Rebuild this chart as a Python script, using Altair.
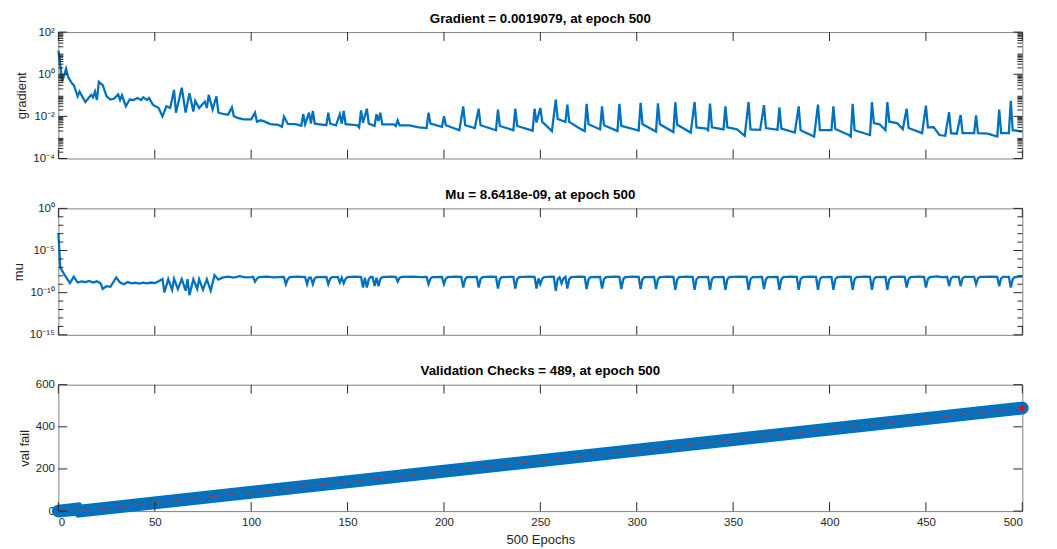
import math
import altair as alt
import pandas as pd

# ---------------- data ----------------
grad_points = [
    (0, 13), (1, 2.6), (2, 0.45), (4, 1.8), (5, 0.75), (7, 0.37), (8, 0.3), (10, 0.09),
    (11, 0.15), (14, 0.048), (17, 0.105), (18, 0.08), (19, 0.15), (20, 0.06), (21, 0.44),
    (23, 0.3), (25, 0.09), (27, 0.063), (29, 0.07), (31, 0.11), (32, 0.06), (33, 0.1),
    (35, 0.03), (37, 0.063), (39, 0.06), (41, 0.074), (43, 0.06), (44, 0.08), (46, 0.06),
    (47, 0.075), (49, 0.036), (52, 0.025), (54, 0.01), (56, 0.03), (58, 0.025), (60, 0.18),
    (61, 0.015), (64, 0.23), (66, 0.015), (68, 0.126), (70, 0.017), (71, 0.054), (73, 0.025),
    (75, 0.04), (76, 0.05), (77, 0.025), (78, 0.105), (80, 0.021), (82, 0.09), (83, 0.015),
    (86, 0.0126), (88, 0.012), (90, 0.027), (91, 0.0102), (93, 0.0085), (96, 0.0072),
    (100, 0.0072), (102, 0.015), (103, 0.0056), (105, 0.0065), (107, 0.0056), (110, 0.0043),
    (114, 0.004), (116, 0.0032), (117, 0.0098), (119, 0.0044), (123, 0.0043), (126, 0.0036),
    (127, 0.0126), (128, 0.0042), (130, 0.015), (131, 0.0045), (132, 0.018), (133, 0.0045),
    (139, 0.0038), (140, 0.015), (141, 0.0045), (144, 0.0037), (146, 0.0126), (147, 0.0045),
    (148, 0.018), (149, 0.0043), (155, 0.0038), (156, 0.003), (157, 0.019), (158, 0.005),
    (160, 0.023), (161, 0.0045), (164, 0.0035), (165, 0.0126), (166, 0.006), (167, 0.015),
    (168, 0.0042), (174, 0.0042), (175, 0.0035), (176, 0.0065), (177, 0.0037), (182, 0.0037),
    (187, 0.003), (191, 0.0028), (192, 0.015), (193, 0.0045), (199, 0.0032), (200, 0.0102),
    (201, 0.0038), (208, 0.0022), (210, 0.03), (211, 0.0038), (216, 0.0028), (218, 0.023),
    (219, 0.0038), (227, 0.0022), (228, 0.021), (229, 0.0035), (236, 0.0022), (237, 0.023),
    (238, 0.0035), (246, 0.0021), (247, 0.023), (248, 0.0051), (250, 0.025), (251, 0.0055),
    (256, 0.002), (258, 0.062), (259, 0.0075), (263, 0.0055), (264, 0.036), (265, 0.0055),
    (270, 0.0028), (273, 0.002), (274, 0.039), (275, 0.0042), (281, 0.0024), (282, 0.03),
    (283, 0.0038), (290, 0.002), (291, 0.039), (292, 0.0035), (301, 0.0021), (302, 0.044),
    (303, 0.0042), (310, 0.0019), (311, 0.042), (312, 0.0042), (319, 0.0018), (320, 0.047),
    (321, 0.004), (328, 0.0017), (330, 0.048), (331, 0.003), (336, 0.0026), (337, 0.0022),
    (338, 0.04), (339, 0.003), (345, 0.0024), (346, 0.03), (347, 0.003), (352, 0.0024),
    (356, 0.0012), (358, 0.047), (359, 0.0024), (364, 0.0023), (366, 0.034), (367, 0.0028),
    (373, 0.0023), (374, 0.027), (375, 0.0026), (382, 0.0017), (384, 0.03), (385, 0.0022),
    (392, 0.0011), (394, 0.036), (395, 0.0022), (401, 0.0022), (402, 0.03), (403, 0.0025),
    (410, 0.0013), (411, 0.0011), (412, 0.039), (413, 0.0022), (421, 0.0013), (422, 0.048),
    (423, 0.0048), (426, 0.0042), (429, 0.0022), (430, 0.048), (431, 0.0056), (435, 0.0048),
    (438, 0.0025), (440, 0.023), (441, 0.0028), (448, 0.0016), (450, 0.032), (451, 0.003),
    (454, 0.0031), (457, 0.0013), (460, 0.0012), (462, 0.016), (463, 0.0016), (466, 0.0015),
    (468, 0.0115), (469, 0.0016), (475, 0.0016), (476, 0.0112), (477, 0.0016), (482, 0.0015),
    (487, 0.0011), (488, 0.021), (489, 0.0016), (493, 0.0016), (494, 0.055), (495, 0.0022),
    (500, 0.0019079),
]

mu_points = [
    (0, 1.2e-3), (1, 9e-8), (3, 1.6e-8), (6, 1.4e-9), (8, 8e-9), (10, 1.6e-9), (12, 2.2e-9),
    (14, 1.8e-9), (16, 2.5e-9), (18, 1.6e-9), (20, 2.2e-9), (22, 1.2e-9), (23, 2.7e-10),
    (25, 6e-10), (27, 5e-10), (30, 6.3e-9), (32, 1.6e-9), (34, 1e-9), (36, 1.8e-9),
    (38, 1.3e-9), (40, 1.5e-9), (42, 1.2e-9), (44, 1.5e-9), (46, 1.3e-9), (48, 1.6e-9),
    (50, 1.4e-9), (52, 2.2e-9), (54, 4e-9), (55, 1.1e-10), (57, 4e-9), (59, 2.2e-10),
    (60, 4.5e-9), (62, 2.7e-10), (64, 4e-9), (66, 1.7e-10), (67, 4e-9), (68, 5e-11),
    (70, 4e-9), (72, 2.7e-10), (73, 4e-9), (75, 2.2e-10), (77, 4e-9), (79, 1.7e-10),
    (81, 1.2e-8), (83, 3.5e-9), (85, 6e-9), (88, 8e-9), (91, 6e-9), (94, 9e-9), (97, 6.5e-9),
    (100, 7e-9), (101, 7.5e-9), (102, 2e-9), (103, 4.5e-9), (104, 7e-9), (108, 8e-9),
    (112, 6.5e-9), (116, 7.5e-9), (117, 7e-9), (118, 1e-9), (119, 4e-9), (120, 7e-9),
    (124, 8e-9), (128, 7e-9), (129, 1e-9), (130, 6e-9), (131, 6e-9), (132, 1e-9), (133, 5e-9),
    (134, 7e-9), (139, 7.5e-9), (140, 1e-9), (141, 4.5e-9), (142, 7e-9), (145, 7e-9),
    (146, 1.6e-9), (147, 6e-9), (148, 1.3e-9), (149, 4.5e-9), (150, 7e-9), (154, 8e-9),
    (157, 7e-9), (158, 4e-10), (159, 6e-9), (160, 4e-10), (161, 4e-9), (162, 7.5e-9),
    (163, 7e-9), (164, 6e-10), (165, 6e-9), (166, 6e-10), (167, 4e-9), (168, 7e-9),
    (172, 8e-9), (175, 7.5e-9), (176, 2e-9), (177, 6e-9), (178, 7.5e-9), (184, 8e-9),
    (188, 7e-9), (191, 7.5e-9), (192, 1e-9), (193, 4.5e-9), (194, 7e-9), (199, 7.5e-9),
    (200, 1e-9), (201, 4.5e-9), (202, 7e-9), (206, 8e-9), (209, 7.5e-9), (210, 4e-10),
    (211, 4e-9), (212, 7e-9), (217, 7.5e-9), (218, 4e-10), (219, 4e-9), (220, 7e-9),
    (224, 8e-9), (227, 7.5e-9), (228, 3e-10), (229, 4e-9), (230, 7e-9), (236, 7.5e-9),
    (237, 3e-10), (238, 4e-9), (239, 7e-9), (244, 8e-9), (247, 7.5e-9), (248, 3e-10),
    (249, 5e-9), (250, 1e-9), (251, 4.5e-9), (252, 7e-9), (256, 8e-9), (257, 7.5e-9),
    (258, 1.7e-10), (259, 4e-9), (260, 6.5e-9), (261, 1.3e-9), (262, 5e-9), (263, 7.5e-9),
    (264, 3e-10), (265, 4e-9), (266, 7e-9), (270, 8e-9), (273, 7.5e-9), (274, 2.7e-10),
    (275, 4e-9), (276, 7e-9), (281, 7.5e-9), (282, 3e-10), (283, 4e-9), (284, 7e-9),
    (288, 8e-9), (291, 7.5e-9), (292, 2.7e-10), (293, 4e-9), (294, 7e-9), (298, 8e-9),
    (301, 7.5e-9), (302, 2.7e-10), (303, 4e-9), (304, 7e-9), (309, 7.5e-9), (310, 2.7e-10),
    (311, 4e-9), (312, 7e-9), (316, 8e-9), (319, 7.5e-9), (320, 2.2e-10), (321, 4e-9),
    (322, 7e-9), (326, 8e-9), (329, 7.5e-9), (330, 2.2e-10), (331, 4e-9), (332, 7e-9),
    (337, 7.5e-9), (338, 2.2e-10), (339, 4e-9), (340, 7e-9), (345, 7.5e-9), (346, 2.2e-10),
    (347, 4e-9), (348, 7e-9), (353, 8e-9), (357, 7.5e-9), (358, 2.2e-10), (359, 4e-9),
    (360, 7e-9), (365, 7.5e-9), (366, 2.7e-10), (367, 4e-9), (368, 7e-9), (373, 7.5e-9),
    (374, 2.2e-10), (375, 4e-9), (376, 7e-9), (380, 8e-9), (383, 7.5e-9), (384, 2.2e-10),
    (385, 4e-9), (386, 7e-9), (390, 8e-9), (393, 7.5e-9), (394, 2.2e-10), (395, 4e-9),
    (396, 7e-9), (401, 7.5e-9), (402, 2.2e-10), (403, 4e-9), (404, 7e-9), (408, 8e-9),
    (411, 7.5e-9), (412, 2.2e-10), (413, 4e-9), (414, 7e-9), (418, 8e-9), (421, 7.5e-9),
    (422, 2.2e-10), (423, 4e-9), (424, 7e-9), (429, 7.5e-9), (430, 2.2e-10), (431, 4e-9),
    (432, 7e-9), (436, 8e-9), (439, 7.5e-9), (440, 4e-10), (441, 4e-9), (442, 7e-9),
    (446, 8e-9), (449, 7.5e-9), (450, 4e-10), (451, 4e-9), (452, 7e-9), (456, 8.5e-9),
    (458, 7e-9), (461, 7.5e-9), (462, 6e-10), (463, 5e-9), (464, 7.5e-9), (467, 7.5e-9),
    (468, 6e-10), (469, 5e-9), (470, 7.5e-9), (475, 7.5e-9), (476, 1e-9), (477, 5e-9),
    (478, 7.5e-9), (484, 8e-9), (487, 7.5e-9), (488, 6e-10), (489, 5e-9), (490, 7.5e-9),
    (493, 7.5e-9), (494, 4e-10), (495, 4e-9), (496, 7e-9), (500, 8.6418e-9),
]

val_epochs = [0, 10, 11, 500]
val_fail = [0, 10, 0, 489]
best_epoch = [500]
best_val_fail = [489]

x_ticks = [0, 50, 100, 150, 200, 250, 300, 350, 400, 450, 500]

grad_major = [1e-4, 1e-2, 1, 1e2]
grad_labels = ["10⁻⁴", "10⁻²", "10⁰", "10²"]
grad_minor = [m * 10.0 ** e for e in range(-4, 2) for m in range(2, 10)]

mu_major = [1e-15, 1e-10, 1e-5, 1]
mu_labels = ["10⁻¹⁵", "10⁻¹⁰", "10⁻⁵", "10⁰"]
mu_minor = [10.0 ** -e for e in range(1, 15) if e % 5]

val_major = [0, 200, 400, 600]

grad_title = "Gradient = 0.0019079, at epoch 500"
mu_title = "Mu = 8.6418e-09, at epoch 500"
val_title = "Validation Checks = 489, at epoch 500"

# ---------------- styling ----------------
W, H = 976, 128
BLUE = "#0072BD"
FONT = "Liberation Sans"
TICK = "#262626"


def log_label_expr(values, labels):
    expr = "''"
    for v, lab in reversed(list(zip(values, labels))):
        expr = f"abs(log(datum.value)/LN10 - ({math.log10(v)})) < 0.01 ? '{lab}' : " + expr
    return expr


def x_enc(show):
    if show:
        ax = alt.Axis(values=x_ticks, ticks=False, tickSize=0, domain=False, grid=False,
                      labelPadding=6, labelFlush=True, title="500 Epochs", titlePadding=5,
                      titleFontSize=13.2, format="d")
    else:
        ax = alt.Axis(values=x_ticks, ticks=False, tickSize=0, domain=False, grid=False,
                      labels=False, title=None)
    return alt.X("epoch:Q", scale=alt.Scale(domain=[0, 500], nice=False, zero=False), axis=ax)


def y_enc(scale, values, label_expr, title):
    ax = alt.Axis(values=values, ticks=False, tickSize=0, domain=False, grid=False,
                  labelPadding=4, labelFlush=False, title=title, titlePadding=4,
                  labelExpr=label_expr)
    return alt.Y("value:Q", scale=scale, axis=ax)


def tick_layers(major, minor, yenc, xenc):
    major_df = pd.DataFrame({"value": major})
    xt = pd.DataFrame({"epoch": x_ticks})
    rule = dict(color=TICK, strokeWidth=1)
    layers = [
        alt.Chart(xt).mark_rule(**rule).encode(x=xenc, y=alt.value(0), y2=alt.value(9)),
        alt.Chart(xt).mark_rule(**rule).encode(x=xenc, y=alt.value(H - 9), y2=alt.value(H)),
        alt.Chart(major_df).mark_rule(**rule).encode(y=yenc, x=alt.value(0), x2=alt.value(9)),
        alt.Chart(major_df).mark_rule(**rule).encode(y=yenc, x=alt.value(W - 9), x2=alt.value(W)),
    ]
    if minor:
        minor_df = pd.DataFrame({"value": minor})
        layers += [
            alt.Chart(minor_df).mark_rule(**rule).encode(y=yenc, x=alt.value(0), x2=alt.value(5)),
            alt.Chart(minor_df).mark_rule(**rule).encode(y=yenc, x=alt.value(W - 5), x2=alt.value(W)),
        ]
    return layers


def title_params(text):
    return alt.TitleParams(text=text, fontSize=13.5, fontWeight="bold", font=FONT,
                           color="black", offset=1, anchor="middle", frame="group")


# ---- panel 1: gradient ----
grad_df = pd.DataFrame(grad_points, columns=["epoch", "value"])
gscale = alt.Scale(type="log", domain=[1e-4, 1e2], nice=False)
gy = y_enc(gscale, grad_major, log_label_expr(grad_major, grad_labels), "gradient")
gx = x_enc(False)
p1 = alt.layer(
    alt.Chart(grad_df).mark_line(color=BLUE, strokeWidth=2.3).encode(x=gx, y=gy),
    *tick_layers(grad_major, grad_minor, gy, gx),
).properties(width=W, height=H, title=title_params(grad_title))

# ---- panel 2: mu ----
mu_df = pd.DataFrame(mu_points, columns=["epoch", "value"])
mscale = alt.Scale(type="log", domain=[1e-15, 1], nice=False)
my = y_enc(mscale, mu_major, log_label_expr(mu_major, mu_labels), "mu")
mx = x_enc(False)
p2 = alt.layer(
    alt.Chart(mu_df).mark_line(color=BLUE, strokeWidth=2.3).encode(x=mx, y=my),
    *tick_layers(mu_major, mu_minor, my, mx),
).properties(width=W, height=H, title=title_params(mu_title))

# ---- panel 3: validation checks ----
val_df = pd.DataFrame({"epoch": val_epochs, "value": val_fail})
best_df = pd.DataFrame({"epoch": best_epoch, "value": best_val_fail})
vscale = alt.Scale(domain=[0, 600], nice=False)
vy = alt.Y("value:Q", scale=vscale,
           axis=alt.Axis(values=val_major, ticks=False, tickSize=0, domain=False, grid=False,
                         labelPadding=4, labelFlush=False, title="val fail", titlePadding=4,
                         format="d"))
vx = x_enc(True)
p3 = alt.layer(
    alt.Chart(val_df).mark_line(color=BLUE, strokeWidth=13, strokeCap="round").encode(x=vx, y=vy),
    alt.Chart(val_df).mark_line(color="#E8252B", strokeWidth=1, strokeDash=[1.5, 1.5]).encode(x=vx, y=vy),
    alt.Chart(best_df).mark_point(shape="diamond", filled=True, color="#FF0000", size=45, opacity=1).encode(x=vx, y=vy),
    *tick_layers(val_major, None, vy, vx),
).properties(width=W, height=H, title=title_params(val_title))

chart = alt.vconcat(p1, p2, p3, spacing=50.5, bounds="flush").properties(
    padding={"left": 2, "top": 0, "right": 0, "bottom": 0}
).configure_view(
    stroke="#7f7f7f", strokeWidth=1
).configure_axis(
    labelFont=FONT, labelFontSize=11.6, labelColor=TICK,
    titleFont=FONT, titleFontSize=13.2, titleColor=TICK, titleFontWeight="normal",
).configure_title(
    font=FONT
)

chart.save("out.html", embed_options={"renderer": "svg", "actions": False})
